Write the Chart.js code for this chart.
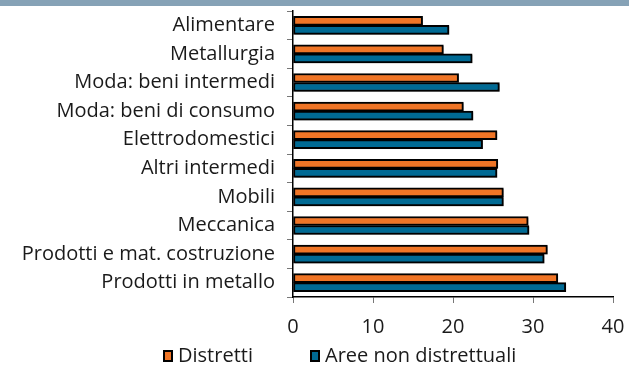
<!DOCTYPE html>
<html>
<head>
<meta charset="utf-8">
<script src="https://cdn.jsdelivr.net/npm/chart.js@4.4.1/dist/chart.umd.min.js"></script>
<style>
  html, body { margin: 0; padding: 0; background: #fff; }
  #wrap { position: relative; width: 629px; height: 368px; overflow: hidden; }
  #band { position: absolute; left: 0; top: 0; width: 629px; height: 6px; background: #86a2b6; }
  canvas { position: absolute; left: 0; top: 0; }
</style>
</head>
<body>
<div id="wrap">
  <canvas id="c" width="629" height="368"></canvas>
  <div id="band"></div>
</div>
<script>
// categorie (dall'alto verso il basso)
const categories = [
  'Alimentare',
  'Metallurgia',
  'Moda: beni intermedi',
  'Moda: beni di consumo',
  'Elettrodomestici',
  'Altri intermedi',
  'Mobili',
  'Meccanica',
  'Prodotti e mat. costruzione',
  'Prodotti in metallo'
];
const distretti = [16.2, 18.8, 20.7, 21.3, 25.5, 25.6, 26.3, 29.4, 31.8, 33.1];
const areeNonDistrettuali = [19.5, 22.4, 25.8, 22.5, 23.7, 25.5, 26.3, 29.5, 31.4, 34.1];
const xTicks = [0, 10, 20, 30, 40];

const ORANGE = '#f07526';
const BLUE = '#006a94';
const FONT = '"Open Sans", "Noto Sans", sans-serif';
const TEXT = '#1a1a1a';

// ombra grigia sotto le barre
const barShadow = {
  id: 'barShadow',
  beforeDatasetsDraw(chart) {
    const ctx = chart.ctx;
    ctx.save();
    ctx.shadowColor = 'rgba(0,0,0,0.28)';
    ctx.shadowOffsetX = 1.5;
    ctx.shadowOffsetY = 1.5;
    ctx.shadowBlur = 0;
  },
  afterDatasetsDraw(chart) {
    chart.ctx.restore();
  }
};

// legenda in basso, disegnata a mano
const bottomLegend = {
  id: 'bottomLegend',
  afterDraw(chart) {
    const ctx = chart.ctx;
    const y = 356;
    const items = [
      { x: 163, ds: chart.data.datasets[0] },
      { x: 310, ds: chart.data.datasets[1] }
    ];
    ctx.save();
    ctx.font = '20px ' + FONT;
    ctx.textBaseline = 'middle';
    items.forEach(it => {
      ctx.fillStyle = it.ds.backgroundColor;
      ctx.fillRect(it.x + 1, y - 5, 8, 10);
      ctx.strokeStyle = '#000';
      ctx.lineWidth = 2;
      ctx.strokeRect(it.x + 1, y - 5, 8, 10);
      ctx.fillStyle = TEXT;
      ctx.fillText(it.ds.label, it.x + 15, y);
    });
    ctx.restore();
  }
};

new Chart(document.getElementById('c'), {
  type: 'bar',
  data: {
    labels: categories,
    datasets: [
      { label: 'Distretti', data: distretti, backgroundColor: ORANGE, borderColor: '#000', borderWidth: 2, borderSkipped: false, barThickness: 9 },
      { label: 'Aree non distrettuali', data: areeNonDistrettuali, backgroundColor: BLUE, borderColor: '#000', borderWidth: 2, borderSkipped: false, barThickness: 9 }
    ]
  },
  options: {
    indexAxis: 'y',
    responsive: false,
    animation: false,
    layout: { padding: { top: 11, right: 16, left: 0, bottom: 0 } },
    plugins: { legend: { display: false }, tooltip: { enabled: false } },
    scales: {
      x: {
        min: 0, max: 40,
        afterBuildTicks: (s) => { s.ticks = xTicks.map(v => ({ value: v })); },
        afterFit: (s) => { s.height = 71; s.paddingLeft = 0; s.paddingRight = 0; },
        grid: { drawOnChartArea: false, drawTicks: true, tickLength: 6, color: '#777' },
        border: { display: true, color: '#000', width: 1.5 },
        ticks: { color: TEXT, font: { family: FONT, size: 20 }, padding: 12 }
      },
      y: {
        afterFit: (s) => { s.width = 293; s.paddingTop = 0; s.paddingBottom = 0; },
        grid: { drawOnChartArea: false, drawTicks: true, tickLength: 6, color: '#777', offset: true },
        border: { display: true, color: '#000', width: 1.5 },
        ticks: { color: TEXT, font: { family: FONT, size: 20 }, padding: 12 }
      }
    }
  },
  plugins: [barShadow, bottomLegend]
});
</script>
</body>
</html>
